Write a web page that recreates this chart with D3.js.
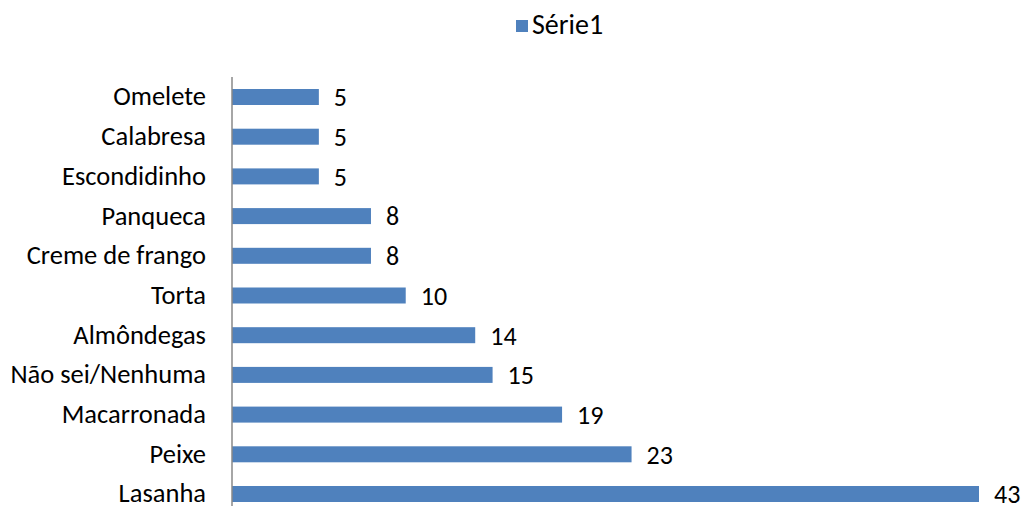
<!DOCTYPE html>
<html><head><meta charset="utf-8">
<script src="https://cdn.jsdelivr.net/npm/d3@7"></script>
<style>body{margin:0;background:#fff}svg{display:block}</style>
</head><body>
<svg id="c" width="1025" height="506"></svg>
<script>
const categories = ["Omelete","Calabresa","Escondidinho","Panqueca","Creme de frango","Torta","Almôndegas","Não sei/Nenhuma","Macarronada","Peixe","Lasanha"];
const values = [5,5,5,8,8,10,14,15,19,23,43];
const seriesName = "Série1";

const svg = d3.select("#c");
const font = "Carlito, Calibri, Lato, 'Open Sans', sans-serif";
const color = "#4F81BD";
const x0 = 232;
const x = d3.scaleLinear().domain([0,43]).range([x0, 979]);
const y = d3.scaleBand().domain(categories).range([77.15, 513.85]).paddingInner(0.597).paddingOuter(0.2985);

const g = svg.append("g");
g.selectAll("rect").data(values).join("rect")
  .attr("x", x(0)).attr("y", (d,i)=>y(categories[i]))
  .attr("width", d=>x(d)-x(0)).attr("height", y.bandwidth())
  .attr("fill", color);

g.selectAll("text.v").data(values).join("text").attr("class","v")
  .attr("x", d=>x(d)+15).attr("y",(d,i)=>y(categories[i])+y.bandwidth()/2)
  .attr("dy","0.36em").attr("font-family",font).attr("font-size",26).attr("fill","#000")
  .text(d=>d);

const axis = d3.axisLeft(y).tickSize(0).tickPadding(26);
const ag = svg.append("g").attr("transform",`translate(${x0},0)`).call(axis);
ag.select(".domain").attr("stroke","#888").attr("stroke-width",1.5).attr("d","M0,77V514");
ag.selectAll("text").attr("font-family",font).attr("font-size",26.5).attr("fill","#000");

const lg = svg.append("g");
lg.append("rect").attr("x",516).attr("y",20).attr("width",12).attr("height",12).attr("fill",color);
lg.append("text").attr("x",532).attr("y",34).attr("font-family",font).attr("font-size",28).attr("fill","#000").text(seriesName);
</script>
</body></html>
